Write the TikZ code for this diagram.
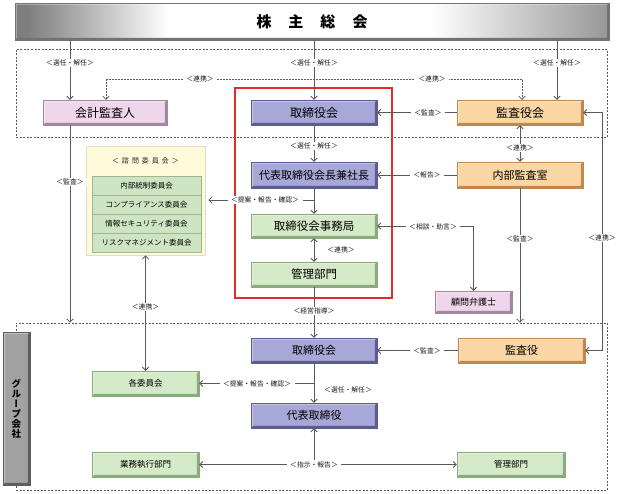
\documentclass[tikz,border=0pt]{standalone}
\usepackage{fontspec}
\setmainfont{Noto Sans CJK JP}
\newfontfamily\jpv[RawFeature=+vert]{Noto Sans CJK JP}
\usetikzlibrary{arrows.meta,calc}
\definecolor{pfill}{HTML}{A7A7D8}\definecolor{pdark}{HTML}{5C5C90}
\definecolor{ofill}{HTML}{FAD6A4}\definecolor{odark}{HTML}{BE8850}
\definecolor{kfill}{HTML}{EFD6EA}\definecolor{kdark}{HTML}{A386A0}
\definecolor{gfill}{HTML}{D4EAC8}\definecolor{gdark}{HTML}{88AC7C}
\definecolor{rowfill}{HTML}{CFE4C2}\definecolor{rowdark}{HTML}{9DB890}
\definecolor{yfill}{HTML}{FFFBDA}\definecolor{ydark}{HTML}{E3DFBE}
\definecolor{barfill}{HTML}{A2A2A2}\definecolor{bardark}{HTML}{5E5E5E}
\definecolor{ln}{HTML}{5A5A5A}
\definecolor{bannerL}{HTML}{7E7E7E}\definecolor{bannerR}{HTML}{979797}
\definecolor{frame}{HTML}{E42A2A}
\pgfdeclarehorizontalshading{bannershade}{100bp}{color(0bp)=(bannerL); color(26bp)=(bannerL); color(38bp)=(white); color(60bp)=(white); color(75bp)=(bannerR); color(100bp)=(bannerR)}
\begin{document}
\begin{tikzpicture}[x=1pt,y=-1pt,
  bx/.style 2 args={draw=#2, line width=0.5pt, fill=#1, inner sep=0pt,
    minimum width=126pt, minimum height=25pt, font=\fontsize{12}{13}\selectfont,
    path picture={
      \fill[#2] (path picture bounding box.south west) -- (path picture bounding box.south east)
        -- (path picture bounding box.north east) -- ([xshift=-2.2pt,yshift=-2.2pt]path picture bounding box.north east)
        -- ([xshift=-2.2pt,yshift=2.2pt]path picture bounding box.south east)
        -- ([xshift=2.2pt,yshift=2.2pt]path picture bounding box.south west) -- cycle;
      \fill[white,opacity=0.5] (path picture bounding box.north west) -- (path picture bounding box.north east)
        -- ([xshift=-2.2pt,yshift=-1.6pt]path picture bounding box.north east)
        -- ([xshift=1.6pt,yshift=-1.6pt]path picture bounding box.north west)
        -- ([xshift=1.6pt,yshift=2.2pt]path picture bounding box.south west)
        -- (path picture bounding box.south west) -- cycle;
    }},
  pbox/.style={bx={pfill}{pdark}},
  obox/.style={bx={ofill}{odark}},
  kbox/.style={bx={kfill}{kdark}},
  gbox/.style={bx={gfill}{gdark}},
  rowbox/.style={draw=rowdark, fill=rowfill, line width=0.6pt, minimum width=109pt, minimum height=19pt,
    inner sep=0pt, font=\fontsize{7.5}{8}\selectfont},
  dbox/.style={draw=black!65, dash pattern=on 2pt off 1.5pt, line width=0.6pt, inner sep=0pt},
  conn/.style={draw=ln, line width=0.75pt},
  arr/.style={-{Straight Barb[length=3.2pt,width=6.5pt]}},
  barr/.style={{Straight Barb[length=3.2pt,width=6.5pt]}-{Straight Barb[length=3.2pt,width=6.5pt]}},
  dotconn/.style={draw=ln, line width=0.7pt, dash pattern=on 0.6pt off 0.9pt},
  lab/.style={fill=white, inner xsep=3.5pt, inner ysep=1pt, text=black!90,
    font=\fontsize{6.8}{7.5}\selectfont},
]
\useasboundingbox (0,0) rectangle (624,493);

% dashed group frames
\node[dbox, minimum width=591pt, minimum height=88pt] (upbox) at (311.5,93) {};
\node[dbox, minimum width=591pt, minimum height=167pt] (grp) at (311.5,406.5) {};

% banner
\node[bx={bannerL}{black!55}, shading=bannershade, minimum width=594pt, minimum height=37pt,
  font=\bfseries\fontsize{15}{16}\selectfont] (shm) at (312,21.5)
  {株\hspace{17pt}主\hspace{17pt}総\hspace{17pt}会};

% group company bar
\node[bx={barfill}{bardark}, minimum width=27pt, minimum height=153pt, align=center,
  font=\jpv\bfseries\fontsize{9.5}{10}\selectfont] (gc) at (16.5,408.5)
  {グ\\ル\\ー\\プ\\会\\社};

% red frame
\node[draw=frame, line width=1.1pt, minimum width=157pt, minimum height=210pt, inner sep=0pt] (core) at (313.5,193) {};

% advisory committee
\node[draw=ydark, fill=yfill, line width=0.8pt, minimum width=119pt, minimum height=109pt, inner sep=0pt] (shimon) at (145.5,200.5) {};
\node[font=\fontsize{7}{8}\selectfont, text=black!85] (shimont) at (145.5,161)
  {＜\hspace{3pt}諮\hspace{3pt}問\hspace{3pt}委\hspace{3pt}員\hspace{3pt}会\hspace{3pt}＞};
\node[rowbox] (r1) at (146.5,185.5) {内部統制委員会};
\node[rowbox] (r2) at (146.5,204.5) {コンプライアンス委員会};
\node[rowbox] (r3) at (146.5,223.5) {情報セキュリティ委員会};
\node[rowbox] (r4) at (146.5,242.5) {リスクマネジメント委員会};

% upper boxes
\node[kbox, minimum width=124pt] (kaikei) at (105,112.5) {会計監査人};
\node[pbox] (tori) at (314,112.5) {取締役会};
\node[obox] (kansakai) at (520,112.5) {監査役会};
\node[pbox, minimum height=26pt, font=\fontsize{11}{12}\selectfont] (daihyo) at (314,175) {代表取締役会長兼社長};
\node[gbox, minimum height=24pt, font=\fontsize{11.5}{12}\selectfont] (jimu) at (314,226) {取締役会事務局};
\node[gbox, font=\fontsize{11.5}{12}\selectfont] (kanri) at (314,274.5) {管理部門};
\node[obox, minimum height=26pt, font=\fontsize{11}{12}\selectfont] (naibu) at (520,175) {内部監査室};
\node[kbox, minimum width=77pt, minimum height=22pt, font=\fontsize{9}{10}\selectfont] (komon) at (473.5,302) {顧問弁護士};

% lower boxes
\node[pbox, font=\fontsize{11}{12}\selectfont] (tori2) at (314,350.5) {取締役会};
\node[obox, minimum width=127pt, font=\fontsize{11}{12}\selectfont] (kansa2) at (521.5,350.5) {監査役};
\node[gbox, minimum width=107pt, font=\fontsize{8.5}{9}\selectfont] (kakuiin) at (145.5,383.5) {各委員会};
\node[pbox, font=\fontsize{11}{12}\selectfont] (daihyo2) at (314,415.5) {代表取締役};
\node[gbox, minimum width=107pt, font=\fontsize{8.5}{9}\selectfont] (gyomu) at (145.5,464.5) {業務執行部門};
\node[gbox, minimum width=108pt, font=\fontsize{8.5}{9}\selectfont] (kanri2) at (511,464.5) {管理部門};

% connectors: top
\draw[conn,arr] (shm.south -| 70,0) -- (kaikei.north -| 70,0);
\draw[conn,arr] (shm.south -| tori) -- (tori.north);
\draw[conn,arr] (shm.south -| 557,0) -- (kansakai.north -| 557,0);
\draw[dotconn,barr] (kaikei.north -| 106,0) |- (522,79) -- (kansakai.north -| 522,0);
\draw[conn,arr] (kansakai.west) -- (tori.east);
\draw[conn,arr] (tori.south) -- (daihyo.north);
\draw[conn,arr] (daihyo.south) -- (jimu.north);
\draw[conn,arr,shorten >=3pt] (daihyo.south |- 0,200) -- (shimon.east |- 0,200);
\draw[conn,barr] (jimu.south) -- (kanri.north);
\draw[conn,arr] (naibu.west) -- (daihyo.east);
\draw[conn,barr] (jimu.east) -- (komon.north |- jimu.east) -- (komon.north);
\draw[conn,barr] (kansakai.south) -- (naibu.north);
\draw[conn,arr] (naibu.south) -- (naibu.south |- grp.north);
\draw[conn,barr] (kansakai.east) -- ++(19,0) |- (kansa2.east);
\draw[conn,arr] (kaikei.south -| 70,0) -- (grp.north -| 70,0);
\draw[conn,barr] (shimon.south) -- (kakuiin.north);
\draw[conn,arr] (kanri.south) -- (tori2.north);
% lower
\draw[conn,arr] (kansa2.west) -- (tori2.east);
\draw[conn,arr] (tori2.south) -- (daihyo2.north);
\draw[conn,arr] (tori2.south |- kakuiin.east) -- (kakuiin.east);
\draw[conn,arr] (daihyo2.south |- gyomu.east) -- (daihyo2.south);
\draw[conn,barr] (gyomu.east) -- (kanri2.west);

% labels
\node[lab] (l1) at (70,63) {＜選任・解任＞};
\node[lab] (l2) at (314,63) {＜選任・解任＞};
\node[lab] (l3) at (557,63) {＜選任・解任＞};
\node[lab] (l4) at (200,79) {＜連携＞};
\node[lab] (l5) at (432,79) {＜連携＞};
\node[lab] (l6) at (428,112.5) {＜監査＞};
\node[lab] (l7) at (314,146) {＜選任・解任＞};
\node[lab] (l8) at (265,200) {＜提案・報告・確認＞};
\node[lab] (l9) at (341,250) {＜連携＞};
\node[lab] (l10) at (427,175) {＜報告＞};
\node[lab] (l11) at (433,227) {＜相談・助言＞};
\node[lab] (l12) at (520,148) {＜連携＞};
\node[lab] (l13) at (520,239) {＜監査＞};
\node[lab] (l14) at (602,238) {＜連携＞};
\node[lab] (l15) at (70,182) {＜監査＞};
\node[lab] (l16) at (145.5,307) {＜連携＞};
\node[lab] (l17) at (314,311) {＜経営指導＞};
\node[lab] (l18) at (427,350.5) {＜監査＞};
\node[lab] (l19) at (348,390) {＜選任・解任＞};
\node[lab] (l20) at (257,383.5) {＜提案・報告・確認＞};
\node[lab] (l21) at (314,464.5) {＜指示・報告＞};
\end{tikzpicture}
\end{document}
